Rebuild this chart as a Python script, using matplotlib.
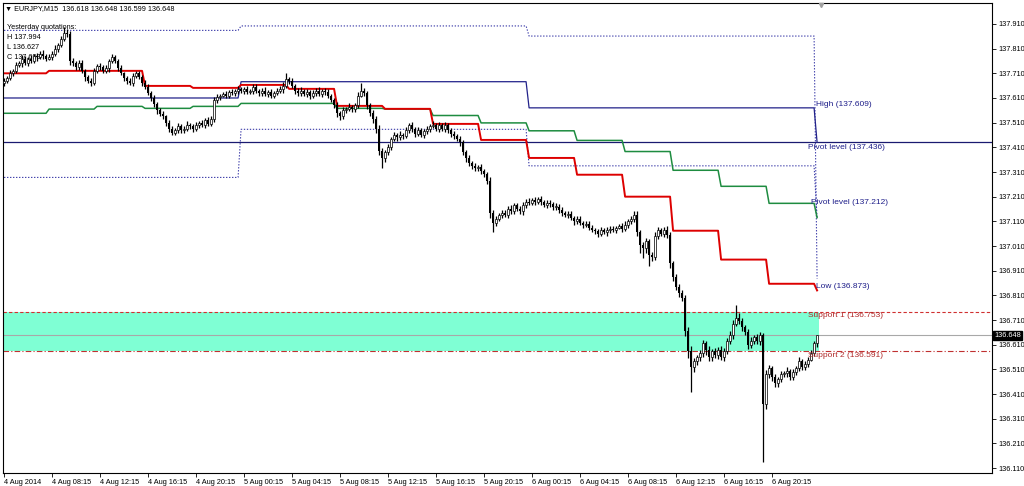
import numpy as np
import matplotlib
matplotlib.use("Agg")
import matplotlib.pyplot as plt

plt.rcParams['font.family'] = ['Liberation Sans', 'DejaVu Sans']

# EURJPY M15 closes (bar 0 = 4 Aug 04:15)
first_open = 137.672
closes = [
    137.680, 137.690, 137.710, 137.720, 137.745, 137.750, 137.770, 137.750, 137.770, 137.760, 137.780, 137.775, 137.790, 137.780, 137.770, 137.775,
    137.790, 137.810, 137.825, 137.850, 137.875, 137.870, 137.760, 137.750, 137.735, 137.750, 137.720, 137.695, 137.680, 137.670, 137.720, 137.740,
    137.735, 137.720, 137.730, 137.760, 137.775, 137.760, 137.730, 137.710, 137.690, 137.680, 137.670, 137.700, 137.710, 137.695, 137.670, 137.655,
    137.630, 137.610, 137.585, 137.560, 137.545, 137.535, 137.510, 137.485, 137.470, 137.480, 137.495, 137.480, 137.485, 137.500, 137.495, 137.485,
    137.500, 137.510, 137.500, 137.520, 137.505, 137.525, 137.600, 137.615, 137.620, 137.625, 137.620, 137.635, 137.630, 137.640, 137.645, 137.640,
    137.645, 137.635, 137.640, 137.655, 137.640, 137.630, 137.640, 137.625, 137.635, 137.620, 137.630, 137.640, 137.645, 137.660, 137.685, 137.680,
    137.660, 137.640, 137.630, 137.640, 137.625, 137.635, 137.620, 137.630, 137.640, 137.625, 137.640, 137.635, 137.620, 137.600, 137.580, 137.550,
    137.535, 137.560, 137.565, 137.575, 137.565, 137.580, 137.620, 137.640, 137.630, 137.580, 137.550, 137.525, 137.485, 137.395, 137.365, 137.390,
    137.410, 137.445, 137.460, 137.450, 137.460, 137.455, 137.480, 137.500, 137.485, 137.465, 137.480, 137.460, 137.475, 137.485, 137.495, 137.500,
    137.485, 137.500, 137.485, 137.500, 137.480, 137.465, 137.455, 137.445, 137.430, 137.390, 137.365, 137.345, 137.335, 137.325, 137.330, 137.315,
    137.300, 137.275, 137.145, 137.105, 137.120, 137.135, 137.145, 137.135, 137.160, 137.150, 137.175, 137.160, 137.150, 137.175, 137.190, 137.185,
    137.195, 137.190, 137.200, 137.190, 137.175, 137.185, 137.180, 137.170, 137.170, 137.155, 137.145, 137.135, 137.140, 137.125, 137.110, 137.120,
    137.105, 137.095, 137.100, 137.085, 137.075, 137.070, 137.060, 137.075, 137.065, 137.075, 137.080, 137.075, 137.085, 137.090, 137.080, 137.095,
    137.110, 137.120, 137.135, 137.065, 137.015, 137.000, 137.030, 136.975, 136.965, 137.050, 137.075, 137.060, 137.075, 137.055, 136.940, 136.885,
    136.845, 136.820, 136.800, 136.665, 136.585, 136.520, 136.545, 136.560, 136.575, 136.615, 136.590, 136.560, 136.585, 136.570, 136.590, 136.560,
    136.585, 136.625, 136.650, 136.695, 136.720, 136.705, 136.680, 136.660, 136.610, 136.625, 136.640, 136.625, 136.650, 136.370, 136.490, 136.515,
    136.480, 136.455, 136.470, 136.490, 136.495, 136.505, 136.480, 136.500, 136.515, 136.545, 136.520, 136.530, 136.550, 136.575, 136.618, 136.648,
]
# wick lengths above / below the body, in points (0.001)
wick_up = [
    10, 8, 13, 7, 12, 9, 15, 10, 7, 13, 8, 12, 10, 15, 8, 12,
    10, 13, 8, 12, 23, 16, 10, 13, 8, 12, 15, 7, 10, 13, 12, 8,
    10, 7, 13, 8, 12, 10, 8, 15, 7, 10, 12, 13, 8, 10, 7, 12,
    10, 8, 13, 7, 10, 12, 8, 10, 13, 7, 12, 8, 10, 15, 8, 10,
    12, 8, 10, 7, 13, 10, 15, 12, 8, 10, 13, 7, 10, 8, 12, 10,
    8, 13, 7, 10, 12, 8, 10, 13, 7, 12, 8, 10, 13, 16, 27, 10,
    12, 8, 10, 13, 7, 10, 8, 12, 10, 13, 8, 10, 12, 7, 10, 13,
    8, 12, 10, 13, 8, 10, 16, 31, 12, 10, 8, 13, 10, 15, 12, 10,
    13, 8, 12, 10, 15, 8, 13, 10, 12, 8, 13, 10, 8, 12, 10, 15,
    10, 13, 8, 12, 10, 8, 13, 10, 12, 8, 10, 13, 8, 12, 10, 13,
    8, 12, 15, 10, 13, 8, 12, 10, 13, 18, 10, 8, 12, 13, 10, 15,
    8, 12, 10, 13, 8, 10, 12, 8, 13, 10, 12, 8, 10, 13, 8, 12,
    10, 8, 13, 10, 12, 8, 10, 13, 8, 12, 10, 13, 8, 10, 12, 15,
    10, 13, 18, 16, 10, 13, 12, 8, 10, 15, 12, 10, 13, 16, 10, 8,
    12, 10, 13, 10, 15, 18, 13, 10, 12, 16, 10, 13, 8, 12, 10, 15,
    12, 13, 16, 15, 50, 18, 13, 10, 12, 15, 10, 13, 12, 8, 16, 12,
    10, 13, 8, 12, 10, 13, 8, 12, 10, 15, 8, 12, 10, 13, 8, 0,
]
wick_dn = [
    13, 10, 8, 12, 7, 10, 13, 8, 12, 10, 8, 15, 7, 10, 12, 8,
    10, 8, 12, 7, 10, 13, 18, 12, 10, 13, 8, 15, 10, 12, 8, 10,
    12, 8, 10, 13, 7, 10, 12, 8, 10, 13, 8, 12, 10, 7, 13, 10,
    8, 12, 10, 13, 8, 10, 15, 12, 8, 10, 13, 10, 12, 8, 10, 13,
    10, 12, 8, 13, 10, 8, 12, 10, 13, 8, 10, 12, 8, 10, 13, 10,
    12, 8, 10, 13, 8, 12, 10, 8, 13, 10, 12, 8, 10, 13, 10, 12,
    8, 13, 10, 12, 8, 10, 13, 10, 12, 8, 10, 13, 12, 8, 10, 18,
    13, 10, 12, 8, 10, 13, 12, 8, 10, 13, 12, 15, 18, 16, 38, 13,
    10, 12, 8, 13, 10, 12, 8, 10, 13, 12, 8, 10, 13, 10, 12, 8,
    10, 13, 8, 12, 10, 15, 12, 10, 13, 12, 15, 10, 13, 12, 10, 13,
    12, 15, 22, 40, 13, 10, 12, 8, 13, 10, 12, 8, 10, 13, 12, 10,
    8, 12, 10, 13, 8, 12, 10, 13, 12, 10, 13, 8, 12, 10, 13, 12,
    10, 13, 8, 12, 10, 13, 12, 10, 8, 13, 12, 10, 13, 8, 12, 10,
    13, 10, 12, 16, 35, 40, 18, 45, 16, 12, 13, 10, 15, 12, 18, 16,
    13, 16, 12, 18, 28, 100, 22, 16, 18, 13, 22, 16, 18, 15, 16, 13,
    16, 13, 12, 15, 10, 13, 16, 12, 18, 15, 13, 12, 16, 237, 22, 16,
    18, 16, 15, 13, 12, 16, 13, 15, 12, 10, 13, 12, 10, 8, 12, 19,
]

# indicator levels, one value per 4-hour block (first block is partial, last is one bar)
block_bars = [15] + [16] * 16 + [1]
red_levels = [137.710, 137.720, 137.720, 137.659, 137.651, 137.663, 137.647, 137.578, 137.566,
              137.505, 137.440, 137.367, 137.299, 137.210, 137.072, 136.955, 136.857, 136.830]
green_levels = [137.548, 137.565, 137.576, 137.568, 137.576, 137.588, 137.588, 137.568, 137.565,
                137.539, 137.509, 137.477, 137.438, 137.393, 137.317, 137.252, 137.183, 137.125]
high_levels = [137.610] * 5 + [137.676] * 6 + [137.570] * 6 + [137.430]
upper_dotted = [137.884] * 5 + [137.902] * 6 + [137.861] * 6 + [136.878]
lower_dotted = [137.288] * 5 + [137.483] * 6 + [137.335] * 6 + [137.125]

pivot_level = 137.433
support1 = 136.741
support2 = 136.583
last_price = 136.648

level_texts = ["High (137.609)", "Pivot level (137.436)", "Pivot level (137.212)",
               "Low (136.873)", "Support 1 (136.753)", "Support 2 (136.591)"]
level_text_y = [137.584, 137.410, 137.188, 136.844, 136.727, 136.565]
level_text_x = [270.7, 268.0, 269.0, 270.7, 268.0, 268.0]
level_text_col = ["#1f1f8a", "#1f1f8a", "#1f1f8a", "#1f1f8a", "#b02828", "#b02828"]

time_labels = ["4 Aug 2014", "4 Aug 08:15", "4 Aug 12:15", "4 Aug 16:15", "4 Aug 20:15",
               "5 Aug 00:15", "5 Aug 04:15", "5 Aug 08:15", "5 Aug 12:15", "5 Aug 16:15",
               "5 Aug 20:15", "6 Aug 00:15", "6 Aug 04:15", "6 Aug 08:15", "6 Aug 12:15",
               "6 Aug 16:15", "6 Aug 20:15"]

closes = np.array(closes)
opens = np.concatenate([[first_open], closes[:-1]])
highs = np.maximum(opens, closes) + np.array(wick_up) / 1000
lows = np.minimum(opens, closes) - np.array(wick_dn) / 1000
n = len(closes)
x = np.arange(n)

fig = plt.figure(figsize=(10.24, 4.86), dpi=100)
ax = fig.add_axes([3 / 1024, 13 / 486, 989 / 1024, 470 / 486])
ax.set_xlim(-0.35, 329.3)
ax.set_ylim(136.090, 137.995)

# support zone
ax.fill_between([-0.35, 271.5], support2, support1, color="#7fffd4", lw=0, zorder=1)
ax.axhline(support1, color="#d03030", lw=0.8, ls=(0, (3, 2)), zorder=2)
ax.axhline(support2, color="#c03030", lw=0.8, ls=(0, (5, 2, 1, 2)), zorder=2)
ax.axhline(last_price, color="#a8a8a8", lw=0.8, zorder=1.5)
ax.axhline(pivot_level, color="#1a1a70", lw=0.9, zorder=2)

ax.plot(x, np.repeat(upper_dotted, block_bars), color="#3a3aa8", lw=0.8, ls=(0, (1.2, 1.5)), zorder=2)
ax.plot(x, np.repeat(lower_dotted, block_bars), color="#3a3aa8", lw=0.8, ls=(0, (1.2, 1.5)), zorder=2)
ax.plot(x, np.repeat(high_levels, block_bars), color="#22228a", lw=0.9, zorder=2)
ax.plot(x, np.repeat(green_levels, block_bars), color="#1e8c40", lw=1.1, zorder=2)
ax.plot(x, np.repeat(red_levels, block_bars), color="#dd0000", lw=1.4, zorder=2)

# candles
ax.vlines(x, lows, highs, color="black", lw=0.9, zorder=3)
bull = closes >= opens
body = np.maximum(np.abs(closes - opens), 0.003)
ax.bar(x[~bull], body[~bull], bottom=np.minimum(opens, closes)[~bull], width=0.7,
       color="black", lw=0, zorder=4)
ax.bar(x[bull], body[bull], bottom=np.minimum(opens, closes)[bull], width=0.7,
       facecolor="white", edgecolor="black", lw=0.5, zorder=4)

for t, tx, ty, tc in zip(level_texts, level_text_x, level_text_y, level_text_col):
    ax.text(tx, ty, t, color=tc, fontsize=6, va="center", ha="left", zorder=6)

# axes styling like the terminal
yt = np.round(136.110 + 0.1 * np.arange(19), 3)
ax.set_yticks(yt)
ax.set_yticklabels([f"{v:.3f}" for v in yt])
ax.yaxis.tick_right()
ax.set_xticks(np.arange(0, 257, 16))
ax.set_xticklabels(time_labels)
for lbl in ax.get_xticklabels():
    lbl.set_ha("left")
ax.tick_params(axis="both", direction="out", length=3, width=0.6, labelsize=5.3, pad=1.5)
for s in ax.spines.values():
    s.set_linewidth(0.8)

ax.text(1.002, last_price, "136.648", transform=ax.get_yaxis_transform(), fontsize=5.3,
        color="white", va="center", ha="left",
        bbox=dict(boxstyle="square,pad=0.15", fc="black", ec="black"), zorder=7)
ax.plot([272.3], [137.985], marker="v", color="#a0a0a0", ms=3, clip_on=False, zorder=7)

fig.text(5 / 1024, 1 - 9 / 486, "\u25bc EURJPY,M15  136.618 136.648 136.599 136.648",
         fontsize=5.2, va="center", ha="left")
yq = ["Yesterday quotations:", "H 137.994", "L 136.627", "C 137.693"]
for k, s in enumerate(yq):
    ax.text(4 / 1024, 1 - (25 + 9.7 * k) / 470, s, transform=ax.transAxes,
            fontsize=5.2, va="center", ha="left", zorder=2.5)

fig.savefig("out.png", dpi=100, facecolor="white")
